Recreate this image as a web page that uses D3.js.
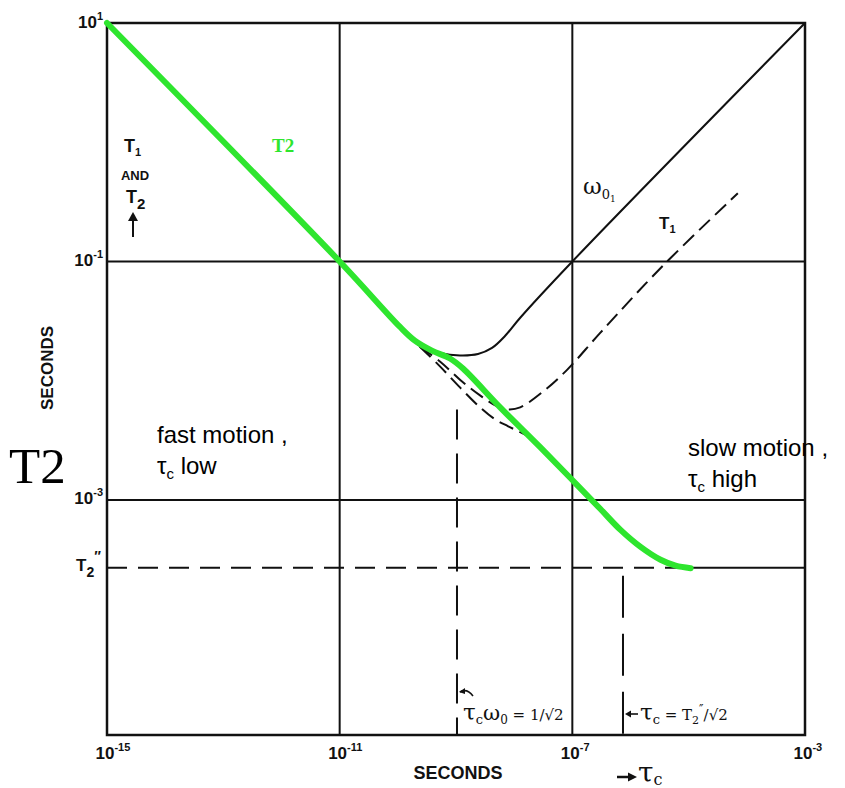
<!DOCTYPE html>
<html><head><meta charset="utf-8">
<script src="https://cdn.jsdelivr.net/npm/d3@7"></script>
<style>body{margin:0;background:#fff}svg{display:block}</style>
</head><body>
<svg id="c" width="845" height="788"></svg>
<script>
// ---- data ----
const xTicks = [1e-15, 1e-11, 1e-7, 1e-3];
const xTickExp = ["-15", "-11", "-7", "-3"];
const yTicks = [10, 1e-1, 1e-3];
const yTickExp = ["1", "-1", "-3"];
const xGrid = [1e-11, 1e-7];
const yGrid = [1e-1, 1e-3];
const T2pp = 2.7e-4;            // T2'' level
const T2ppEnd = 1.08e-5;        // where the dashed T2'' line turns solid
const tauOmega = 1.04e-9;       // tau_c*omega0 = 1/sqrt2
const tauOmegaTop = 5.75e-3;
const tauT2 = 7.43e-7;          // tau_c = T2''/sqrt2

const omegaCurve = [[1e-15,10],[1e-11,0.1],[1.08e-10,0.0289],[2.40e-10,0.01954],[5.31e-10,0.0171],[1.17e-9,0.0163],
  [2.39e-9,0.01675],[4.16e-9,0.01884],[6.95e-9,0.0237],[1.26e-8,0.0336],[1e-7,0.1],[1e-3,10]];
const t1Dashed = [[2.39e-10,1.93e-2],[5.30e-10,1.45e-2],[1.17e-9,1.02e-2],[2.59e-9,7.53e-3],[5.09e-9,6.10e-3],
  [7.89e-9,5.75e-3],[1.27e-8,5.98e-3],[3.16e-8,8.13e-3],[8.20e-8,1.24e-2],[3.04e-7,2.53e-2],[3.71e-6,9.35e-2],[7.00e-5,0.373]];
const t2Dashed = [[2.39e-10,1.93e-2],[5.30e-10,1.32e-2],[1.17e-9,8.79e-3],[2.59e-9,5.98e-3],[4.70e-9,4.74e-3],
  [7.89e-9,4.15e-3],[1.27e-8,3.70e-3],[1.89e-8,3.36e-3]];
const t2Green = [[1e-15,10],[1e-11,0.1],[1.08e-10,0.0284],[1.96e-10,0.0217],[3.85e-10,0.0179],[7.9e-10,0.01535],
  [1.32e-9,0.01265],[5.74e-9,0.00598],[2.8e-8,0.00277],[1e-7,0.00147],[3.04e-7,0.00084],[6.73e-7,0.000561],
  [1.49e-6,0.000404],[3.29e-6,0.000315],[5.97e-6,0.000281],[1.08e-5,0.000268]];

// ---- scales ----
const svg = d3.select("#c");
const x = d3.scaleLog().domain([1e-15, 1e-3]).range([107, 805]);
const y = d3.scaleLog().domain([Math.pow(10, -4.971), 10]).range([735, 23]);
const ink = "#111";
const line = d3.line().x(d => x(d[0])).y(d => y(d[1])).curve(d3.curveCatmullRom.alpha(0.5));

// grid
svg.selectAll(".gx").data(xGrid).join("line")
  .attr("x1", d => x(d)).attr("x2", d => x(d)).attr("y1", y.range()[1]).attr("y2", y.range()[0])
  .attr("stroke", ink).attr("stroke-width", 2);
svg.selectAll(".gy").data(yGrid).join("line")
  .attr("y1", d => y(d)).attr("y2", d => y(d)).attr("x1", x.range()[0]).attr("x2", x.range()[1])
  .attr("stroke", ink).attr("stroke-width", 2);

// T2'' level
svg.append("line").attr("x1", x(1e-15)).attr("x2", x(T2ppEnd)).attr("y1", y(T2pp)).attr("y2", y(T2pp))
  .attr("stroke", ink).attr("stroke-width", 2).attr("stroke-dasharray", "20,11");
svg.append("line").attr("x1", x(T2ppEnd)).attr("x2", x(1e-3)).attr("y1", y(T2pp)).attr("y2", y(T2pp))
  .attr("stroke", ink).attr("stroke-width", 2);

// vertical dashed markers
svg.append("line").attr("x1", x(tauOmega)).attr("x2", x(tauOmega)).attr("y1", y(tauOmegaTop)).attr("y2", y.range()[0])
  .attr("stroke", ink).attr("stroke-width", 2).attr("stroke-dasharray", "30,14");
svg.append("line").attr("x1", x(tauT2)).attr("x2", x(tauT2)).attr("y1", y(T2pp) + 8).attr("y2", y.range()[0])
  .attr("stroke", ink).attr("stroke-width", 2).attr("stroke-dasharray", "42,16");

// frame
svg.append("rect").attr("x", x.range()[0]).attr("y", y.range()[1])
  .attr("width", x.range()[1] - x.range()[0]).attr("height", y.range()[0] - y.range()[1])
  .attr("fill", "none").attr("stroke", ink).attr("stroke-width", 2.5);

// curves
svg.append("path").datum(omegaCurve).attr("d", line).attr("fill", "none").attr("stroke", ink).attr("stroke-width", 2);
svg.append("path").datum(t1Dashed).attr("d", line).attr("fill", "none").attr("stroke", ink).attr("stroke-width", 2)
  .attr("stroke-dasharray", "15,7");
svg.append("path").datum(t2Dashed).attr("d", line).attr("fill", "none").attr("stroke", ink).attr("stroke-width", 2)
  .attr("stroke-dasharray", "15,7");
svg.append("path").datum(t2Green).attr("d", line).attr("fill", "none").attr("stroke", "#2ee52e").attr("stroke-width", 6)
  .attr("stroke-linecap", "round").attr("stroke-linejoin", "round");

// axes (tick labels only)
const tickFont = "'Liberation Sans', Arial, sans-serif";
const yAxis = svg.append("g").attr("transform", `translate(${x.range()[0]},0)`)
  .call(d3.axisLeft(y).tickValues(yTicks).tickSize(0).tickPadding(6).tickFormat(() => ""));
yAxis.select(".domain").remove();
yAxis.selectAll(".tick text").each(function(d, i) {
  const t = d3.select(this).attr("font-family", tickFont).attr("font-weight", "bold").attr("fill", ink)
    .attr("dy", "0.4em").attr("x", -4);
  t.append("tspan").attr("font-size", 17).text("10");
  t.append("tspan").attr("font-size", 11).attr("dy", -8).text(yTickExp[i]);
});
const xAxis = svg.append("g").attr("transform", `translate(0,${y.range()[0]})`)
  .call(d3.axisBottom(x).tickValues(xTicks).tickSize(0).tickFormat(() => ""));
xAxis.select(".domain").remove();
xAxis.selectAll(".tick text").each(function(d, i) {
  const t = d3.select(this).attr("font-family", tickFont).attr("font-weight", "bold").attr("fill", ink)
    .attr("text-anchor", "start").attr("x", -12).attr("y", 24).attr("dy", 0);
  t.append("tspan").attr("font-size", 17).text("10");
  t.append("tspan").attr("font-size", 11).attr("dy", -8).text(xTickExp[i]);
});

// T2'' tick label
const tpp = svg.append("text").attr("x", 76).attr("y", y(T2pp) + 3).attr("font-family", tickFont)
  .attr("font-weight", "bold").attr("fill", ink);
tpp.append("tspan").attr("font-size", 17).text("T");
tpp.append("tspan").attr("font-size", 14).attr("dy", 6).text("2");
tpp.append("tspan").attr("font-size", 14).attr("dy", -16).text("\u2033");

// axis titles
svg.append("text").attr("x", 458).attr("y", 779).attr("text-anchor", "middle").attr("font-family", tickFont)
  .attr("font-weight", "bold").attr("font-size", 18).attr("fill", ink).text("SECONDS");
svg.append("text").attr("transform", "translate(53,368) rotate(-90)").attr("text-anchor", "middle")
  .attr("font-family", tickFont).attr("font-weight", "bold").attr("font-size", 17).attr("fill", ink).text("SECONDS");
svg.append("line").attr("x1", 617).attr("x2", 630).attr("y1", 777).attr("y2", 777).attr("stroke", ink).attr("stroke-width", 2.5);
svg.append("path").attr("d", "M637,777 l-9,-4.5 l0,9 Z").attr("fill", ink);
const tauLab = svg.append("text").attr("x", 638).attr("y", 782).attr("fill", ink).attr("font-family", "'DejaVu Serif', serif");
tauLab.append("tspan").attr("font-size", 28).text("\u03c4");
tauLab.append("tspan").attr("font-size", 16).attr("dy", 3).text("c");

// "T1 AND T2" with arrow
const lab1 = svg.append("text").attr("x", 124).attr("y", 152).attr("font-family", tickFont).attr("font-weight", "bold").attr("fill", ink);
lab1.append("tspan").attr("font-size", 18).text("T");
lab1.append("tspan").attr("font-size", 11).attr("dy", 4).text("1");
svg.append("text").attr("x", 135).attr("y", 180).attr("text-anchor", "middle").attr("font-family", tickFont)
  .attr("font-weight", "bold").attr("font-size", 13).attr("fill", ink).text("AND");
const lab2 = svg.append("text").attr("x", 126).attr("y", 203).attr("font-family", tickFont).attr("font-weight", "bold").attr("fill", ink);
lab2.append("tspan").attr("font-size", 18).text("T");
lab2.append("tspan").attr("font-size", 15).attr("dy", 6).text("2");
svg.append("line").attr("x1", 133).attr("x2", 133).attr("y1", 237).attr("y2", 218).attr("stroke", ink).attr("stroke-width", 2);
svg.append("path").attr("d", "M128,221 L133,212 L138,221 Z").attr("fill", ink);

// green T2
svg.append("text").attr("x", 272).attr("y", 152).attr("font-family", "'Liberation Serif', serif").attr("font-weight", "bold")
  .attr("font-size", 19).attr("fill", "#2ee52e").text("T2");

// omega label
const om = svg.append("text").attr("x", 583).attr("y", 194).attr("font-family", "'DejaVu Serif', serif").attr("fill", ink);
om.append("tspan").attr("font-size", 23).text("\u03c9");
om.append("tspan").attr("font-size", 13).attr("dy", 5).text("0");
om.append("tspan").attr("font-size", 9).attr("dy", 3).text("1");
// T1 label near dashed
const t1l = svg.append("text").attr("x", 659).attr("y", 229).attr("font-family", tickFont).attr("font-weight", "bold").attr("fill", ink);
t1l.append("tspan").attr("font-size", 17).text("T");
t1l.append("tspan").attr("font-size", 11).attr("dy", 4).text("1");

// big T2
svg.append("text").attr("x", 9).attr("y", 483).attr("font-family", "'Liberation Serif', 'Times New Roman', serif")
  .attr("font-size", 51).attr("fill", "#000").text("T2");

// motion labels
const sans = "'Liberation Sans', Arial, sans-serif";
svg.append("text").attr("x", 157).attr("y", 443).attr("font-family", sans).attr("font-size", 24).attr("fill", "#000").text("fast motion ,");
const fl = svg.append("text").attr("x", 157).attr("y", 474).attr("font-family", sans).attr("fill", "#000");
fl.append("tspan").attr("font-size", 24).text("\u03c4");
fl.append("tspan").attr("font-size", 15).attr("dy", 5).text("c");
fl.append("tspan").attr("font-size", 24).attr("dy", -5).text(" low");
svg.append("text").attr("x", 688).attr("y", 456).attr("font-family", sans).attr("font-size", 24).attr("fill", "#000").text("slow motion ,");
const sl = svg.append("text").attr("x", 688).attr("y", 487).attr("font-family", sans).attr("fill", "#000");
sl.append("tspan").attr("font-size", 24).text("\u03c4");
sl.append("tspan").attr("font-size", 15).attr("dy", 5).text("c");
sl.append("tspan").attr("font-size", 24).attr("dy", -5).text(" high");

// bottom annotations
const serif = "'DejaVu Serif', serif";
const a1 = svg.append("text").attr("x", 463).attr("y", 720).attr("font-family", serif).attr("fill", ink);
a1.append("tspan").attr("font-size", 23).text("\u03c4");
a1.append("tspan").attr("font-size", 13).attr("dy", 4).text("c");
a1.append("tspan").attr("font-size", 21).attr("dy", -4).text("\u03c9");
a1.append("tspan").attr("font-size", 12).attr("dy", 4).text("0");
a1.append("tspan").attr("font-size", 15).attr("dy", -4).text(" = 1/\u221a2");
svg.append("path").attr("d", `M${x(tauOmega) + 16},696 Q${x(tauOmega) + 10},688 ${x(tauOmega) + 3},692`)
  .attr("fill", "none").attr("stroke", ink).attr("stroke-width", 1.6);
svg.append("path").attr("d", `M${x(tauOmega) + 2},692 l6,-4 l0,6 Z`).attr("fill", ink);

const a2 = svg.append("text").attr("x", x(tauT2) + 17).attr("y", 720).attr("font-family", serif).attr("fill", ink);
a2.append("tspan").attr("font-size", 23).text("\u03c4");
a2.append("tspan").attr("font-size", 13).attr("dy", 4).text("c");
a2.append("tspan").attr("font-size", 15).attr("dy", -4).text(" = T");
a2.append("tspan").attr("font-size", 11).attr("dy", 4).text("2");
a2.append("tspan").attr("font-size", 12).attr("dy", -10).text("\u2033");
a2.append("tspan").attr("font-size", 15).attr("dy", 6).text("/\u221a2");
svg.append("line").attr("x1", x(tauT2) + 15).attr("x2", x(tauT2) + 5).attr("y1", 714).attr("y2", 714).attr("stroke", ink).attr("stroke-width", 1.6);
svg.append("path").attr("d", `M${x(tauT2) + 2},714 l6,-3.5 l0,7 Z`).attr("fill", ink);
</script>
</body></html>
